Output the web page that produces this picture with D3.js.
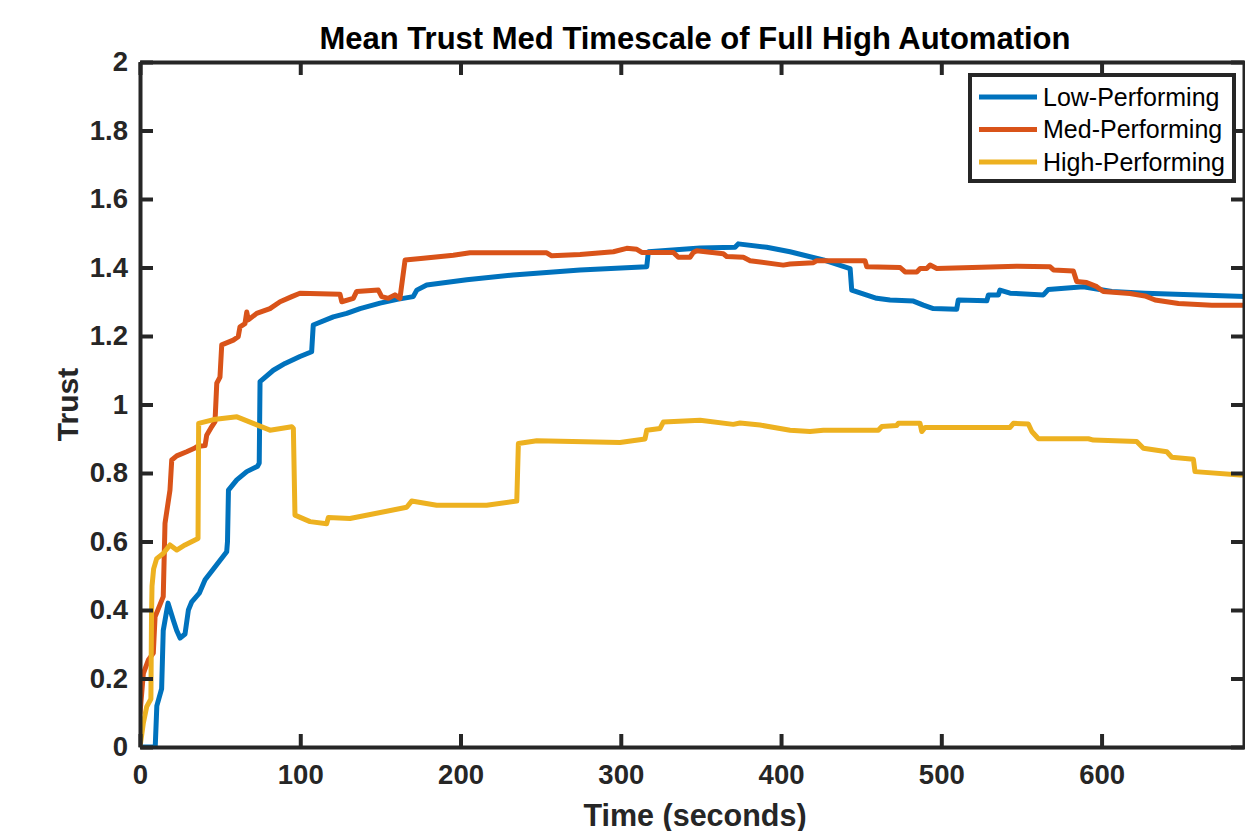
<!DOCTYPE html>
<html>
<head>
<meta charset="utf-8">
<script src="https://cdn.jsdelivr.net/npm/d3@7"></script>
<style>
html,body{margin:0;padding:0;background:#fff;}
svg{display:block;}
</style>
</head>
<body>
<svg id="chart" width="1245" height="831"></svg>
<script>
const seriesNames = ["Low-Performing", "Med-Performing", "High-Performing"];
const seriesColors = ["#0072BD", "#D95319", "#EDB120"];
const xTicks = [0, 100, 200, 300, 400, 500, 600];
const yTicks = [0, 0.2, 0.4, 0.6, 0.8, 1, 1.2, 1.4, 1.6, 1.8, 2];
const yTickLabels = ["0", "0.2", "0.4", "0.6", "0.8", "1", "1.2", "1.4", "1.6", "1.8", "2"];

const lowT = [0,9.5,10.5,13.5,14.5,17.5,20.8,22.9,25,28.1,30.2,32.3,37,40.6,45.8,54.1,54.6,55.2,60.4,66.6,73.4,74.4,74.9,83.2,90.5,99.8,107.1,108.1,120.6,129,137.3,149.8,160.5,170.5,172.7,178.9,203.9,232.8,274.6,316.2,317.2,349.5,371.3,373.3,391.1,405.6,426.4,443.1,444.1,459.7,468,482.6,488.8,495,509.6,510.6,528.4,529.4,535.6,536.6,542.9,563.7,566.8,588.6,606.4,627.1,689.5];
const lowV = [0,0,0.12,0.17,0.34,0.42,0.37,0.34,0.318,0.33,0.40,0.424,0.449,0.488,0.52,0.57,0.6,0.75,0.78,0.804,0.82,0.829,1.067,1.10,1.12,1.14,1.154,1.232,1.256,1.266,1.28,1.296,1.307,1.315,1.334,1.349,1.364,1.378,1.393,1.402,1.446,1.457,1.459,1.469,1.459,1.446,1.422,1.397,1.334,1.31,1.305,1.302,1.29,1.28,1.278,1.305,1.303,1.32,1.32,1.334,1.325,1.32,1.336,1.344,1.33,1.325,1.315];

const medT = [0,2.1,5.2,8.3,9.4,14.5,15.6,18.7,19.8,22.9,29.1,34.3,35.4,40.6,41.6,44.7,46.8,47.9,49.9,51,58.2,61.3,62.4,65.5,66.6,67.6,72.8,81.1,87.4,94.7,99.8,124.8,125.9,133.1,135.2,148.7,150.8,155,159.1,162.2,165.4,176.8,195.5,205.9,253.8,256.9,274.6,295.4,303.7,310,313.1,332.8,335.9,343.2,345.3,347.4,364,366.1,376.5,380.7,401.4,405.6,420.2,422.3,452.4,453.5,474.3,477.4,484.7,486.8,490.9,493,497.2,547.1,567.9,570,582.4,584.5,590.7,597,601.1,617.7,627.1,633.4,648,668.8,689.5];
const medV = [0.098,0.215,0.254,0.274,0.38,0.439,0.653,0.75,0.838,0.85,0.862,0.873,0.877,0.88,0.91,0.935,0.95,1.062,1.08,1.174,1.188,1.198,1.227,1.236,1.27,1.247,1.266,1.28,1.30,1.315,1.325,1.322,1.30,1.31,1.33,1.334,1.315,1.31,1.32,1.31,1.422,1.427,1.436,1.443,1.443,1.434,1.438,1.446,1.456,1.453,1.444,1.444,1.43,1.43,1.444,1.449,1.44,1.432,1.43,1.42,1.407,1.41,1.414,1.42,1.42,1.402,1.40,1.387,1.387,1.397,1.397,1.407,1.397,1.404,1.402,1.393,1.39,1.359,1.356,1.344,1.33,1.324,1.317,1.305,1.295,1.29,1.29];

const highT = [0,2.1,4.2,6.8,7.2,7.5,8.5,10.4,14.5,18.7,22.9,28.1,36.2,36.6,45.9,60.5,81.1,94.7,95.7,96.7,106.1,116.5,117.5,131,166.4,169.5,185.1,216.3,235.1,236.1,247.6,299.5,315.1,316.2,324.5,326.6,349.5,370.2,374.4,386.9,405.6,418.1,426.4,460.7,462.9,472.2,473.2,486.7,487.8,489.9,542.9,545,554.3,556.5,560.6,591.8,594.9,621.9,626.1,640.7,643.8,657.3,658.3,686.4,689.5];
const highV = [0,0.07,0.118,0.14,0.39,0.47,0.52,0.55,0.565,0.59,0.575,0.59,0.609,0.945,0.956,0.964,0.925,0.935,0.93,0.677,0.658,0.652,0.67,0.667,0.70,0.718,0.706,0.706,0.718,0.886,0.894,0.889,0.899,0.925,0.93,0.949,0.954,0.942,0.946,0.94,0.925,0.921,0.925,0.925,0.936,0.939,0.945,0.945,0.921,0.933,0.933,0.945,0.943,0.921,0.90,0.90,0.896,0.892,0.872,0.862,0.846,0.84,0.804,0.794,0.794];

const xMax = 689.5;
const L = 140, R = 1245, T = 62, B = 747;
const svg = d3.select("#chart");
const x = d3.scaleLinear().domain([0, xMax]).range([L, R]);
const y = d3.scaleLinear().domain([0, 2]).range([B, T]);
const axisColor = "#262626";
const font = "'Liberation Sans', Arial, Helvetica, sans-serif";

svg.append("defs").append("clipPath").attr("id", "clip")
  .append("rect").attr("x", L).attr("y", T).attr("width", R - L).attr("height", B - T);

const series = [
  {t: lowT, v: lowV},
  {t: medT, v: medV},
  {t: highT, v: highV}
];
const line = d3.line().x(d => x(d[0])).y(d => y(d[1]));
const plot = svg.append("g").attr("clip-path", "url(#clip)");
series.forEach((s, i) => {
  const pts = s.t.map((t, k) => [t, s.v[k]]);
  plot.append("path").datum(pts)
    .attr("d", line)
    .attr("fill", "none")
    .attr("stroke", seriesColors[i])
    .attr("stroke-width", 5)
    .attr("stroke-linejoin", "round")
    .attr("stroke-linecap", "round");
});

function styleAxis(g) {
  g.selectAll("path.domain").attr("stroke", axisColor).attr("stroke-width", 4);
  g.selectAll(".tick line").attr("stroke", axisColor).attr("stroke-width", 4);
  g.selectAll("text").attr("fill", axisColor).attr("font-family", font)
    .attr("font-weight", "bold").attr("font-size", 27.5);
}

const gx = svg.append("g").attr("transform", `translate(0,${B})`)
  .call(d3.axisBottom(x).tickValues(xTicks).tickFormat(d3.format("d")).tickSizeInner(-13).tickSizeOuter(0).tickPadding(17));
styleAxis(gx);
gx.selectAll("text").attr("dy", "0.71em");

const gy = svg.append("g").attr("transform", `translate(${L},0)`)
  .call(d3.axisLeft(y).tickValues(yTicks).tickFormat((d, i) => yTickLabels[i]).tickSizeInner(-13).tickSizeOuter(0).tickPadding(12));
styleAxis(gy);

const gt = svg.append("g").attr("transform", `translate(0,${T})`)
  .call(d3.axisTop(x).tickValues(xTicks).tickFormat("").tickSizeInner(-13).tickSizeOuter(0));
styleAxis(gt);

const gr = svg.append("g").attr("transform", `translate(${R - 1},0)`)
  .call(d3.axisRight(y).tickValues(yTicks).tickFormat("").tickSizeInner(-13).tickSizeOuter(0));
styleAxis(gr);

// Title and labels
svg.append("text").attr("x", 695).attr("y", 49).attr("text-anchor", "middle")
  .attr("font-family", font).attr("font-weight", "bold").attr("font-size", 31)
  .attr("fill", "#000").text("Mean Trust Med Timescale of Full High Automation");
svg.append("text").attr("x", 695).attr("y", 826).attr("text-anchor", "middle")
  .attr("font-family", font).attr("font-weight", "bold").attr("font-size", 30.5)
  .attr("fill", axisColor).text("Time (seconds)");
svg.append("text").attr("transform", `translate(78,${(T + B) / 2}) rotate(-90)`)
  .attr("text-anchor", "middle")
  .attr("font-family", font).attr("font-weight", "bold").attr("font-size", 30)
  .attr("fill", axisColor).text("Trust");

// Legend
const lg = svg.append("g");
lg.append("rect").attr("x", 970).attr("y", 75).attr("width", 264).attr("height", 106)
  .attr("fill", "#fff").attr("stroke", axisColor).attr("stroke-width", 4);
seriesNames.forEach((name, i) => {
  const yy = 97 + i * 32.5;
  lg.append("line").attr("x1", 979).attr("x2", 1037).attr("y1", yy).attr("y2", yy)
    .attr("stroke", seriesColors[i]).attr("stroke-width", 5);
  lg.append("text").attr("x", 1043).attr("y", yy + 8.5)
    .attr("font-family", font).attr("font-size", 25).attr("fill", "#000").text(name);
});
</script>
</body>
</html>
